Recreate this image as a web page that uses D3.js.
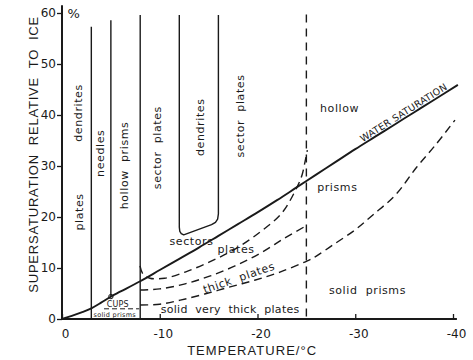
<!DOCTYPE html>
<html>
<head>
<meta charset="utf-8">
<script src="https://cdn.jsdelivr.net/npm/d3@7"></script>
<style>
  html, body { margin: 0; padding: 0; background: #fff; }
  svg { display: block; }
  .lbl { font-family: "DejaVu Sans", sans-serif; font-size: 11px; fill: #1a1a1a; letter-spacing: 0.6px; white-space: pre; }
  .tick text { font-family: "DejaVu Sans", sans-serif; font-size: 12px; fill: #1a1a1a; }
  .title { font-family: "Liberation Sans", Arial, sans-serif; font-size: 13px; fill: #1a1a1a; white-space: pre; }
</style>
</head>
<body>
<svg id="chart" width="473" height="360"></svg>
<script>
// ---------------- data ----------------
// Water saturation (supersaturation relative to ice, %) vs temperature (°C)
const waterTemps = [0, -1, -2, -3, -4, -5, -6, -8, -10, -12, -14, -16, -18, -20, -22, -24, -26, -28, -30, -32, -34, -36, -38, -40.5];
const waterSat   = [0, 0.6, 1.3, 2.1, 3.2, 4.4, 5.4, 7.4, 9.6, 11.8, 14.0, 16.3, 18.6, 20.9, 23.3, 25.8, 28.3, 30.8, 33.3, 35.7, 38.1, 40.5, 42.9, 45.9];

// Dashed boundary: sectors / plates (merges into -25 °C line)
const sectorTemps = [-7.98, -8.29, -9.0, -10.5, -12.6, -15.1, -17.7, -20.3, -22.5, -24.0, -24.55, -24.86, -25.1];
const sectorVals  = [10.4, 8.8, 8.0, 8.0, 9.2, 11.2, 13.7, 17.1, 20.8, 25.7, 28.2, 30.8, 33.1];

// Dashed boundary: plates / thick plates
const thickTemps = [-8.0, -10.0, -12.6, -15.1, -17.7, -20.3, -22.8, -25.1];
const thickVals  = [5.7, 5.9, 6.9, 8.4, 10.4, 12.9, 15.9, 18.4];

// Dashed boundary: thick plates / solid very thick plates, continuing as prisms / solid prisms
const solidTemps = [-8.0, -10.0, -12.1, -14.6, -17.2, -19.7, -22.3, -25.1, -25.9, -27.7, -30.0, -31.8, -34.1, -36.3, -38.2, -40.2];
const solidVals  = [2.75, 2.9, 3.7, 4.9, 6.3, 7.6, 9.2, 11.4, 12.2, 14.5, 17.5, 20.4, 24.3, 29.8, 34.1, 39.0];

// Solid habit boundaries (temperature, top value)
const habitTemps = [-3, -5, -8];
const habitTops  = [57.3, 58.6, 59.6];

// Dendrite region outline (-12 to -16 °C)
const dendriteTemps = [-12, -12, -12.05, -12.2, -12.45, -15.3, -15.7, -15.92, -16, -16];
const dendriteVals  = [59.6, 18.0, 17.2, 16.75, 16.5, 18.5, 18.95, 19.6, 20.6, 59.6];

// Dashed boundary between the two regimes
const regimeTemp = -25;

// Ticks
const xTicks = [0, -10, -20, -30, -40];
const yTicks = [0, 10, 20, 30, 40, 50, 60];

// Labels
const columnLabels = ["plates", "dendrites", "needles", "hollow  prisms", "sector  plates", "dendrites", "sector  plates"];
const xTitle = "TEMPERATURE/°C";
const yTitle = "SUPERSATURATION  RELATIVE  TO  ICE";

// ---------------- drawing ----------------
const ink = "#1a1a1a";
const svg = d3.select("#chart");
const x = d3.scaleLinear().domain([0, -40]).range([62, 453]);
const y = d3.scaleLinear().domain([0, 60]).range([319, 13]);

const zip = (a, b) => a.map((d, i) => [d, b[i]]);
const line = d3.line().x(d => x(d[0])).y(d => y(d[1])).curve(d3.curveCatmullRom.alpha(0.5));
const straight = d3.line().x(d => x(d[0])).y(d => y(d[1]));

// Axes
const xAxis = d3.axisBottom(x).tickValues(xTicks).tickSize(-5).tickSizeOuter(0).tickPadding(10)
  .tickFormat(d => d === 0 ? "0" : "-" + Math.abs(d));
const gx = svg.append("g").attr("transform", `translate(0,${y(0)})`).call(xAxis);
gx.selectAll("text").attr("dx", 3);
gx.select(".domain").attr("stroke", ink).attr("stroke-width", 2).attr("d", `M${x(0)},0H${x(-40.4)}`);
gx.selectAll(".tick line").attr("stroke", ink).attr("stroke-width", 1.3);

const yAxis = d3.axisLeft(y).tickValues(yTicks).tickSize(5).tickSizeOuter(0).tickPadding(1);
const gy = svg.append("g").attr("transform", `translate(${x(0)},0)`).call(yAxis);
gy.select(".domain").attr("stroke", ink).attr("stroke-width", 2).attr("d", `M0,${y(0)}V${y(61.5)}`);
gy.selectAll(".tick line").attr("stroke", ink).attr("stroke-width", 1.3);

svg.append("text").attr("class", "lbl").style("font-size", "13px")
  .attr("x", x(-0.55)).attr("y", y(60)).attr("dy", "0.35em").text("%");

// Titles
svg.append("text").attr("class", "title")
  .attr("transform", `translate(${x(0) - 29},${y(32.2)}) rotate(-90)`)
  .attr("text-anchor", "middle").attr("dy", "0.35em")
  .attr("textLength", 276).attr("lengthAdjust", "spacing")
  .text(yTitle);
svg.append("text").attr("class", "title")
  .attr("x", x(-19.4)).attr("y", 355).attr("text-anchor", "middle")
  .attr("textLength", 129).attr("lengthAdjust", "spacing")
  .text(xTitle);

// Habit boundaries (solid verticals)
habitTemps.forEach((t, i) => {
  const bottom = t === -5 ? waterSat[waterTemps.indexOf(-5)] : 0;
  svg.append("path").attr("fill", "none").attr("stroke", ink).attr("stroke-width", 1.4)
    .attr("d", straight([[t, bottom], [t, habitTops[i]]]));
});
svg.append("circle").attr("cx", x(-5)).attr("cy", y(waterSat[waterTemps.indexOf(-5)]))
  .attr("r", 2.2).attr("fill", "none").attr("stroke", ink).attr("stroke-width", 1);

// Dendrite box
svg.append("path").attr("fill", "none").attr("stroke", ink).attr("stroke-width", 1.4)
  .attr("stroke-linejoin", "round")
  .attr("d", straight(zip(dendriteTemps, dendriteVals)));

// Dashed -25 °C line
svg.append("path").attr("fill", "none").attr("stroke", ink).attr("stroke-width", 1.4)
  .attr("stroke-dasharray", "8,6")
  .attr("d", straight([[regimeTemp, 0.5], [regimeTemp, 60]]));

// Dashed habit curves
[[sectorTemps, sectorVals], [thickTemps, thickVals], [solidTemps, solidVals]].forEach(([t, v]) => {
  svg.append("path").attr("fill", "none").attr("stroke", ink).attr("stroke-width", 1.4)
    .attr("stroke-dasharray", "8,5").attr("d", line(zip(t, v)));
});
// cups / solid prisms boundary
svg.append("path").attr("fill", "none").attr("stroke", ink).attr("stroke-width", 1)
  .attr("stroke-dasharray", "5,3")
  .attr("d", straight([[-4.3, 2.0], [-7.9, 2.0]]));

// Water saturation line
svg.append("path").attr("fill", "none").attr("stroke", ink).attr("stroke-width", 1.9)
  .attr("d", line(zip(waterTemps, waterSat)));

// Water saturation label along the line
{
  const t0 = -31.2, t1 = -39.5;
  const v0 = 34.2, v1 = 44.2;
  const ang = Math.atan2(y(v1) - y(v0), x(t1) - x(t0)) * 180 / Math.PI;
  const cx = x((t0 + t1) / 2), cy = y((v0 + v1) / 2);
  svg.append("text").attr("class", "lbl").style("font-size", "9.5px").style("letter-spacing", "0.3px")
    .attr("transform", `translate(${cx},${cy}) rotate(${ang})`)
    .attr("text-anchor", "middle").attr("dy", "-0.45em").text("WATER SATURATION");
}

// Vertical column labels
const colPos = [[-1.75, 21.0], [-1.65, 40.4], [-3.9, 32.5], [-6.35, 30.1], [-9.7, 33.6], [-14.1, 37.6], [-18.2, 39.8]];
columnLabels.forEach((s, i) => {
  svg.append("text").attr("class", "lbl")
    .attr("transform", `translate(${x(colPos[i][0])},${y(colPos[i][1])}) rotate(-90)`)
    .attr("text-anchor", "middle").attr("dy", "0.35em").text(s);
});

// Horizontal labels
const hl = (t, v, s, anchor, extra) => {
  const el = svg.append("text").attr("class", "lbl").attr("x", x(t)).attr("y", y(v))
    .attr("dy", "0.35em").attr("text-anchor", anchor || "middle").text(s);
  if (extra) extra(el);
  return el;
};
hl(-26.4, 41.4, "hollow", "start");
hl(-26.1, 25.9, "prisms", "start");
hl(-31.25, 5.7, "solid  prisms");
hl(-13.25, 15.3, "sectors");
hl(-17.8, 13.7, "plates");
hl(-17.2, 1.96, "solid  very  thick  plates", "middle", el => el.style("letter-spacing", "0.3px"));
hl(-5.7, 2.95, "CUPS", "middle", el => el.style("font-size", "8px").style("letter-spacing", "0.2px"));
hl(-5.4, 0.75, "solid prisms", "middle", el => el.style("font-size", "6.5px").style("letter-spacing", "0.3px"));

// thick plates (rotated)
svg.append("text").attr("class", "lbl")
  .attr("transform", `translate(${x(-18.1)},${y(8.1)}) rotate(-19)`)
  .attr("text-anchor", "middle").attr("dy", "0.35em").text("thick  plates");
</script>
</body>
</html>
